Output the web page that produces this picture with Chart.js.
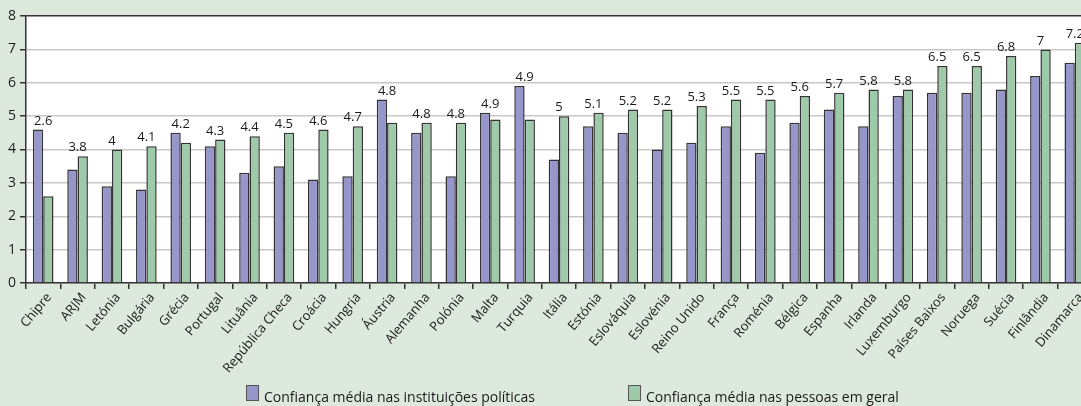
<!DOCTYPE html>
<html>
<head>
<meta charset="utf-8">
<script src="https://cdn.jsdelivr.net/npm/chart.js@4/dist/chart.umd.min.js"></script>
<style>
	body { margin: 0; background: #dde9dd; overflow: hidden; width: 1081px; height: 406px; position: relative; font-family: "Open Sans", sans-serif; }
	#wrap { position: absolute; left: 0; top: 0; width: 1094px; height: 406px; }
	.lg-box { position: absolute; top: 385px; width: 11px; height: 14px; border: 1px solid #555; }
	.lg-text { position: absolute; top: 387px; font-size: 14px; line-height: 19px; color: #1a1a1a; white-space: nowrap; }
</style>
</head>
<body>
<div id="wrap"><canvas id="myChart" width="1094" height="406"></canvas></div>
<span class="lg-box" style="left:246px; background:#9696cb"></span>
<span class="lg-text" id="lg0" style="left:264px"></span>
<span class="lg-box" style="left:628px; background:#9fcaa9"></span>
<span class="lg-text" id="lg1" style="left:646px"></span>
<script>
const countries = [
	"Chipre", "ARJM", "Letónia", "Bulgária", "Grécia", "Portugal", "Lituânia", "República Checa",
	"Croácia", "Hungria", "Áustria", "Alemanha", "Polónia", "Malta", "Turquia", "Itália",
	"Estónia", "Eslováquia", "Eslovénia", "Reino Unido", "França", "Roménia", "Bélgica", "Espanha",
	"Irlanda", "Luxemburgo", "Países Baixos", "Noruega", "Suécia", "Finlândia", "Dinamarca",
];
const institutions = [
	4.6, 3.4, 2.9, 2.8, 4.5, 4.1, 3.3, 3.5,
	3.1, 3.2, 5.5, 4.5, 3.2, 5.1, 5.9, 3.7,
	4.7, 4.5, 4.0, 4.2, 4.7, 3.9, 4.8, 5.2,
	4.7, 5.6, 5.7, 5.7, 5.8, 6.2, 6.6,
];
const people = [
	2.6, 3.8, 4, 4.1, 4.2, 4.3, 4.4, 4.5,
	4.6, 4.7, 4.8, 4.8, 4.8, 4.9, 4.9, 5,
	5.1, 5.2, 5.2, 5.3, 5.5, 5.5, 5.6, 5.7,
	5.8, 5.8, 6.5, 6.5, 6.8, 7, 7.2,
];
const seriesNames = ["Confiança média nas instituições políticas", "Confiança média nas pessoas em geral"];
const yTicks = [0, 1, 2, 3, 4, 5, 6, 7, 8];

document.getElementById("lg0").textContent = seriesNames[0];
document.getElementById("lg1").textContent = seriesNames[1];

const plotBg = {
	id: "plotBg",
	beforeDraw(chart) {
		const { ctx, chartArea } = chart;
		ctx.save();
		ctx.fillStyle = "#ffffff";
		ctx.fillRect(chartArea.left, chartArea.top, chartArea.right - chartArea.left, chartArea.bottom - chartArea.top);
		ctx.restore();
	},
};

// value labels sit above the taller bar of each pair
const topLabels = {
	id: "topLabels",
	afterDatasetsDraw(chart) {
		const { ctx } = chart;
		const x = chart.scales.x;
		const y = chart.scales.y;
		ctx.save();
		ctx.font = "13px 'Open Sans'";
		ctx.fillStyle = "#1a1a1a";
		ctx.textAlign = "center";
		ctx.textBaseline = "bottom";
		countries.forEach((c, i) => {
			const top = Math.max(institutions[i], people[i]);
			ctx.fillText(String(people[i]), x.getPixelForValue(i), y.getPixelForValue(top) - 2);
		});
		ctx.restore();
	},
};

new Chart(document.getElementById("myChart"), {
	type: "bar",
	data: {
		labels: countries,
		datasets: [
			{
				label: seriesNames[0],
				data: institutions,
				backgroundColor: "#9696cb",
				borderColor: "#333",
				borderWidth: 1.5,
				categoryPercentage: 0.6,
				barPercentage: 1,
			},
			{
				label: seriesNames[1],
				data: people,
				backgroundColor: "#9fcaa9",
				borderColor: "#333",
				borderWidth: 1.5,
				categoryPercentage: 0.6,
				barPercentage: 1,
			},
		],
	},
	options: {
		responsive: false,
		animation: false,
		layout: { padding: { left: 0, top: 16, right: 2, bottom: 0 } },
		plugins: {
			legend: { display: false },
			tooltip: { enabled: false },
		},
		scales: {
			x: {
				afterFit: (axis) => {
					axis.height = 123;
				},
				grid: { drawOnChartArea: false, offset: true, tickLength: 6, color: "#333", lineWidth: 1.5 },
				border: { color: "#333", width: 1.5 },
				ticks: {
					autoSkip: false,
					maxRotation: 50,
					minRotation: 50,
					padding: 1,
					labelOffset: 6,
					color: "#1a1a1a",
					font: { family: "Open Sans", size: 13 },
				},
			},
			y: {
				min: 0,
				max: 8,
				afterFit: (axis) => {
					axis.width = 26;
				},
				afterBuildTicks: (axis) => {
					axis.ticks = yTicks.map((v) => ({ value: v }));
				},
				grid: {
					color: (ctx) => (ctx.tick && ctx.tick.value === 8 ? "#333" : "#c8c8c8"),
					lineWidth: 1.5,
					tickColor: "#333",
					tickLength: 6,
				},
				border: { color: "#333", width: 1.5 },
				ticks: {
					padding: 4,
					color: "#1a1a1a",
					font: { family: "Open Sans", size: 14 },
				},
			},
		},
	},
	plugins: [plotBg, topLabels],
});
</script>
</body>
</html>
